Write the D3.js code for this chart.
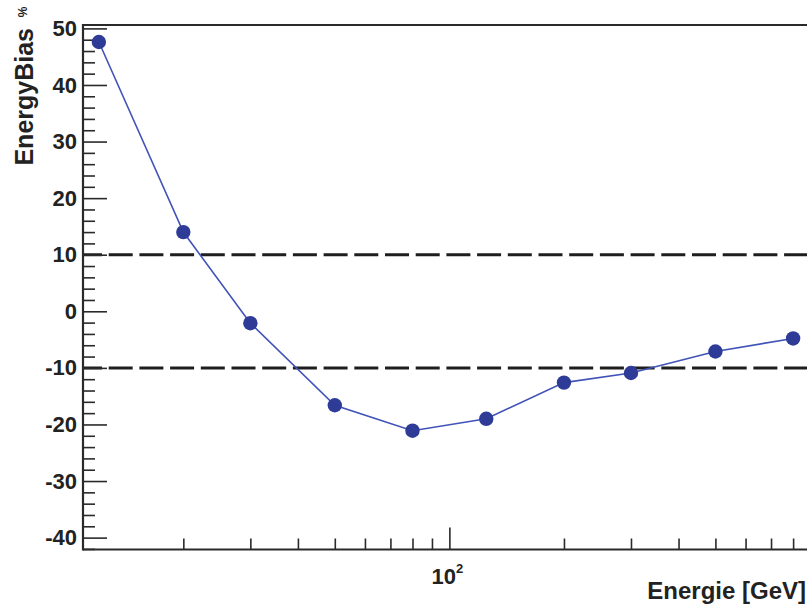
<!DOCTYPE html>
<html>
<head>
<meta charset="utf-8">
<script src="https://cdn.jsdelivr.net/npm/d3@7"></script>
<style>
  html, body { margin: 0; padding: 0; background: #fff; }
  svg { display: block; }
  text { font-family: "Liberation Sans", Arial, sans-serif; font-weight: bold; fill: #222; }
</style>
</head>
<body>
<svg id="chart" width="807" height="605"></svg>
<script>
// ---- data ----
const energies = [12, 20, 30, 50, 80, 125, 200, 300, 500, 800];      // GeV
const energyBias = [47.6, 14.0, -2.1, -16.6, -21.1, -19.0, -12.6, -10.9, -7.1, -4.8]; // %
const bandLimits = [10, -10];
const yMajorTicks = [-40, -30, -20, -10, 0, 10, 20, 30, 40, 50];
const xMajorTicks = [100, 1000];
const xMinorTicks = [20, 30, 40, 50, 60, 70, 80, 90, 200, 300, 400, 500, 600, 700, 800, 900];
const yTitle = "EnergyBias";
const yUnit = "%";
const xTitle = "Energie [GeV]";

(function () {
// ---- layout ----
const svg = d3.select("#chart");
const pLeft = 83, pRight = 830, pTop = 25, pBottom = 549.5;

const x = d3.scaleLog().domain([10.9, 1000]).range([pLeft, pRight]);
const y = d3.scaleLinear().domain([-42.1, 50.6]).range([pBottom, pTop]);

const axisColor = "#2a2a2a";

// dashed band lines
svg.append("g").selectAll("line").data(bandLimits).join("line")
  .attr("x1", pLeft).attr("x2", pRight)
  .attr("y1", d => y(d)).attr("y2", d => y(d))
  .attr("stroke", "#1e1e1e").attr("stroke-width", 3)
  .attr("stroke-dasharray", "24,6.7").attr("stroke-dashoffset", 5);

// y minor ticks
const yMinor = d3.range(-42, 51, 2).filter(v => !yMajorTicks.includes(v));
const gyMinor = svg.append("g").attr("transform", `translate(${pLeft},0)`)
  .call(d3.axisLeft(y).tickValues(yMinor).tickFormat("").tickSizeInner(-12).tickSizeOuter(0));
// y major ticks
const gy = svg.append("g").attr("transform", `translate(${pLeft},0)`)
  .call(d3.axisLeft(y).tickValues(yMajorTicks).tickFormat(d => d < 0 ? "-" + Math.abs(d) : String(d))
        .tickSizeInner(-24).tickSizeOuter(0).tickPadding(6));
// x minor ticks
const gxMinor = svg.append("g").attr("transform", `translate(0,${pBottom})`)
  .call(d3.axisBottom(x).tickValues(xMinorTicks).tickFormat("").tickSizeInner(-11).tickSizeOuter(0));
// x major ticks
const gx = svg.append("g").attr("transform", `translate(0,${pBottom})`)
  .call(d3.axisBottom(x).tickValues(xMajorTicks).tickFormat("").tickSizeInner(-22).tickSizeOuter(0));

[gyMinor, gy, gxMinor, gx].forEach(g => {
  g.select(".domain").remove();
  g.selectAll(".tick line").attr("stroke", axisColor).attr("stroke-width", 1.6);
});
gy.selectAll(".tick text")
  .attr("font-size", 22).attr("font-family", "Liberation Sans, Arial, sans-serif")
  .attr("font-weight", "bold").attr("fill", "#222");

// x major tick label 10^2
xMajorTicks.filter(v => v <= 900).forEach(v => {
  const t = svg.append("text")
    .attr("x", x(v) - 2).attr("y", pBottom + 34)
    .attr("text-anchor", "middle").attr("font-size", 22);
  t.append("tspan").text("10");
  t.append("tspan").attr("font-size", 13).attr("dy", -11).text(String(Math.round(Math.log10(v))));
});

// frame lines: left, bottom, top
svg.append("line").attr("x1", pLeft).attr("x2", pLeft).attr("y1", pTop - 1).attr("y2", pBottom + 1)
  .attr("stroke", axisColor).attr("stroke-width", 2.2);
svg.append("line").attr("x1", pLeft).attr("x2", pRight).attr("y1", pBottom).attr("y2", pBottom)
  .attr("stroke", axisColor).attr("stroke-width", 2.2);
svg.append("line").attr("x1", pLeft).attr("x2", pRight).attr("y1", pTop).attr("y2", pTop)
  .attr("stroke", axisColor).attr("stroke-width", 2.2);

// data line
const pts = energies.map((e, i) => [e, energyBias[i]]);
svg.append("path").datum(pts)
  .attr("fill", "none").attr("stroke", "#4153b8").attr("stroke-width", 1.6)
  .attr("d", d3.line().x(d => x(d[0])).y(d => y(d[1])));

// markers
svg.append("g").selectAll("circle").data(pts).join("circle")
  .attr("cx", d => x(d[0])).attr("cy", d => y(d[1])).attr("r", 7.2)
  .attr("fill", "#2e3b97");

// axis titles
svg.append("text")
  .attr("transform", "translate(33,28) rotate(-90)")
  .attr("text-anchor", "end").attr("font-size", 25).text(yTitle);
svg.append("text")
  .attr("transform", "translate(27,12) rotate(-90)")
  .attr("text-anchor", "middle").attr("font-size", 12).attr("font-weight", "normal").text(yUnit);
svg.append("text")
  .attr("x", 806).attr("y", 599)
  .attr("text-anchor", "end").attr("font-size", 24).text(xTitle);
})();
</script>
</body>
</html>
